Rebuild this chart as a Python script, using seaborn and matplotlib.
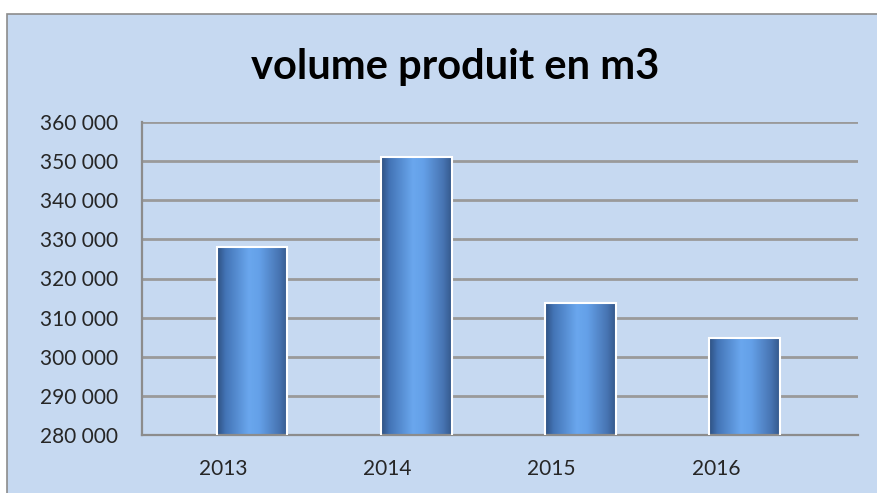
import numpy as np
import pandas as pd
import matplotlib
matplotlib.use("Agg")
import matplotlib.pyplot as plt
import seaborn as sns
from matplotlib.colors import LinearSegmentedColormap
from matplotlib.patches import Rectangle
from matplotlib.ticker import FuncFormatter, MultipleLocator

years = ["2013", "2014", "2015", "2016"]
volumes = [328000, 351000, 313800, 304800]

bg = "#C6D9F1"
sns.set_style("white")
plt.rcParams["font.family"] = ["Lato", "DejaVu Sans"]

fig = plt.figure(figsize=(8.77, 4.93), dpi=100)
fig.patch.set_facecolor("white")
# chart area frame
fig.patches.append(Rectangle((7 / 877, -0.01), 1.0, 1 - 14 / 493 + 0.01,
                             transform=fig.transFigure, facecolor=bg,
                             edgecolor="#8c8c8c", linewidth=1.2, zorder=-1))

ax = fig.add_axes([142 / 877, 1 - 435 / 493, (858 - 142) / 877, (435 - 122) / 493])
ax.set_zorder(1)
ax.patch.set_alpha(0)

df = pd.DataFrame({"annee": years, "volume": volumes})
sns.barplot(data=df, x="annee", y="volume", color="#4a7fc4", width=0.43, ax=ax,
            edgecolor="white", linewidth=1.5, zorder=3)

ymin, ymax = 280000, 360000
ax.set_ylim(ymin, ymax)

# cylinder-like gradient on each bar
cmap = LinearSegmentedColormap.from_list(
    "cyl", [(0, "#2e5080"), (0.12, "#4374b6"), (0.45, "#6aa7ee"),
            (0.6, "#64a0e8"), (0.88, "#4774b2"), (1, "#34588b")])
grad = np.linspace(0, 1, 256).reshape(1, -1)
for p in ax.patches:
    bb = p.get_bbox()
    im = ax.imshow(grad, cmap=cmap, aspect="auto",
                   extent=(bb.x0, bb.x1, max(bb.y0, ymin), bb.y1),
                   zorder=2.5, interpolation="bilinear")
    im.set_clip_path(p)
    p.set_facecolor("none")

# 3D-style category axis: labels sit left of the bars, grid runs deeper
ax.set_xlim(-0.67, 3.69)
ax.set_ylim(ymin, ymax)
ax.yaxis.set_major_locator(MultipleLocator(10000))
ax.yaxis.set_major_formatter(FuncFormatter(lambda v, _: f"{v:,.0f}".replace(",", " ")))
ax.grid(axis="y", color="#9a9a9a", linewidth=2.0, zorder=1)
ax.set_axisbelow(True)

ax.set_xlabel("")
ax.set_ylabel("")
ax.set_xticks(np.arange(len(years)) - 0.175)
ax.set_xticklabels(years)
ax.set_xticks(np.arange(len(years)) + 0.325, minor=True)
ax.tick_params(axis="x", which="major", length=0, pad=17, labelsize=15)
ax.tick_params(axis="x", which="minor", length=6, width=1.2, color="#8c8c8c", direction="out")
ax.tick_params(axis="y", length=7, width=1.2, color="#8c8c8c", labelsize=15, pad=10)

for s in ["top", "right"]:
    ax.spines[s].set_visible(False)
for s in ["left", "bottom"]:
    ax.spines[s].set_color("#8c8c8c")
    ax.spines[s].set_linewidth(1.6)

fig.text(455 / 877, 1 - 67 / 493, "volume produit en m3", ha="center", va="center",
         fontsize=30, fontweight="bold", color="black")

fig.savefig("out.png", dpi=100, facecolor=fig.get_facecolor())
